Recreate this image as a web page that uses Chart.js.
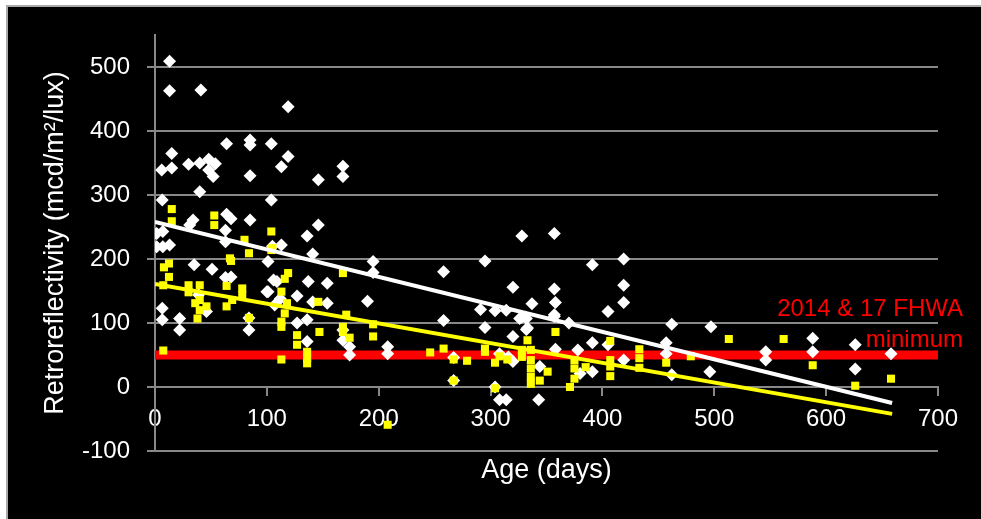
<!DOCTYPE html>
<html>
<head>
<meta charset="utf-8">
<script src="https://cdn.jsdelivr.net/npm/chart.js@4.4.0/dist/chart.umd.min.js"></script>
<style>
body { margin: 0; background: #fff; }
#frame { position: absolute; left: 6px; top: 5px; right: 0; bottom: 0; background: #000; border-top: 2px solid #a9a9a9; border-left: 2px solid #a9a9a9; }
#chart { position: absolute; left: 0; top: 0; }
</style>
</head>
<body>
<div id="frame"></div>
<canvas id="chart" width="981" height="519"></canvas>
<script>
// [age in days, retroreflectivity]
const whitePoints = [
    [1.5,240],[7,243],[1.5,219],[7,219],[13,222],[6.5,292],[6,339],[15,342],[15,365],[13,509],[13,463],[41,464],
    [30,348],[40,350],[48,356],[54,349],[48,339],[52,329],[40,305],[64,380],[85,386],[85,378],[104,380],[85,330],[104,292],
    [34,261],[31,253],[64,270],[68,263],[85,261],[63,245],[63,227],[35,191],[51,184],[63,171],[68,172],[101,196],[101,149],
    [6.5,123],[6.5,105],[22,107],[22,89],[84,89],[84,108],[39,144],[46,118],
    [119,438],[119,360],[113,344],[146,324],[146,253],[136,236],[141,208],[105,220],[113,222],
    [168,345],[168,329],[195,196],[195,179],[106,167],[109,165],[100,149],[112,138],[137,165],[154,162],[127,142],
    [141,133],[154,131],[190,134],[107,128],[127,100],[136,105],[168,89],[168,73],[174,63],[136,71],[174,50],[208,63],[208,52],
    [258,180],[295,197],[391,191],[419,200],[419,159],[419,132],[405,118],[357,153],[358,132],[320,156],[337,130],
    [291,121],[304,119],[314,120],[326,107],[332,107],[357,110],[370,100],[258,104],[295,93],[332,90],[320,79],
    [358,59],[378,58],[391,69],[405,66],[419,42],[267,46],[267,10],[308,52],[316,47],[320,40],[344,32],[380,21],
    [391,24],[304,0],[308,-20],[314,-20],[343,-20],[328,236],[357,240],[357,113],[328,109],[333,92],
    [462,98],[457,69],[457,52],[462,19],[497,94],[496,24],
    [546,55],[546,42],[588,76],[588,55],[626,66],[626,28],[658,52]
]

const yellowPoints = [
    [15,278],[15,259],[53,268],[53,253],[80,230],[104,243],[84,209],[104,214],[67,201],[105,217],
    [12.5,193],[8,187],[12.5,172],[7.4,159],[30,159],[30,148],[40,159],[40,136],[36,131],[40,120],[38,107],[46,126],
    [64,158],[64,126],[68,197],[78,154],[78,144],[69,136],[84,108],[7.4,57],
    [119,178],[116,169],[168,178],[113,149],[118,131],[116,115],[113,102],[113,94],[146,133],[171,113],[168,94],
    [168,86],[174,77],[195,98],[195,79],[147,86],[127,81],[127,66],[136,55],[136,45],[136,37],[113,43],[208,-59],
    [246,54],[258,60],[267,43],[279,41],[267,10],[295,60],[295,55],[304,38],[308,48],[304,-2],[315,43],[328,58],
    [328,47],[333,73],[336,58],[336,42],[336,29],[336,16],[336,5],[344,10],[351,24],[358,86],[371,0],[375,42],
    [375,29],[375,13],[385,31],[407,72],[407,42],[407,32],[407,17],[433,59],[433,45],[433,30],[457,38],[479,48],
    [513,75],[562,75],[588,34],[626,2],[658,13]
]

const whiteTrendAge = [0, 659]
const whiteTrendRetro = [258, -25]
const yellowTrendAge = [0, 659]
const yellowTrendRetro = [161, -42]
const minimumAge = [0, 700]
const minimumRetro = [50, 50]
const minimumText = ['2014 & 17 FHWA', 'minimum']

const ageTicks = [0, 100, 200, 300, 400, 500, 600, 700]
const retroTicks = [-100, 0, 100, 200, 300, 400, 500]

const font = { family: '"Liberation Sans", Arial, sans-serif', size: 24 }
const titleFont = { family: '"Liberation Sans", Arial, sans-serif', size: 27 }
const gridGray = '#888888'

function toXY(xs, ys){
    return xs.map((x, i) => ({ x: x, y: ys[i] }))
}

function pairs(points){
    return points.map(p => ({ x: p[0], y: p[1] }))
}

const minimumLabel = {
    id: 'minimumLabel',
    afterDatasetsDraw(chart){
        const ctx = chart.ctx
        const py = chart.scales.y.getPixelForValue(minimumRetro[0])
        const px = chart.chartArea.right + 25
        ctx.save()
        ctx.fillStyle = '#ff0000'
        ctx.font = '24px "Liberation Sans", Arial, sans-serif'
        ctx.textAlign = 'right'
        ctx.textBaseline = 'alphabetic'
        ctx.fillText(minimumText[0], px, py - 39)
        ctx.fillText(minimumText[1], px, py - 8)
        ctx.restore()
    }
}

new Chart(document.getElementById('chart').getContext('2d'), {
    type: 'scatter',
    data: {
        datasets: [
            {
                type: 'line',
                label: 'White trend',
                data: toXY(whiteTrendAge, whiteTrendRetro),
                xAxisID: 'x',
                borderColor: '#ffffff',
                borderWidth: 4,
                pointRadius: 0
            },
            {
                type: 'line',
                label: 'Yellow trend',
                data: toXY(yellowTrendAge, yellowTrendRetro),
                xAxisID: 'x',
                borderColor: '#ffff00',
                borderWidth: 4,
                pointRadius: 0
            },
            {
                label: 'Yellow',
                data: pairs(yellowPoints),
                xAxisID: 'x',
                pointStyle: 'rect',
                pointRadius: 5.7,
                pointBorderWidth: 0,
                backgroundColor: '#ffff00'
            },
            {
                label: 'White',
                data: pairs(whitePoints),
                xAxisID: 'x',
                pointStyle: 'rectRot',
                pointRadius: 6.5,
                pointBorderWidth: 0,
                backgroundColor: '#ffffff'
            },
            {
                type: 'line',
                label: 'FHWA minimum',
                data: toXY(minimumAge, minimumRetro),
                xAxisID: 'x',
                borderColor: '#ff0000',
                borderWidth: 9,
                pointRadius: 0
            }
        ]
    },
    options: {
        responsive: false,
        animation: false,
        events: [],
        layout: { padding: { top: 35, right: 43, left: 0, bottom: 0 } },
        plugins: {
            legend: { display: false },
            tooltip: { enabled: false }
        },
        scales: {
            x: {
                type: 'linear',
                position: 'bottom',
                min: 0,
                max: 700,
                ticks: { display: false },
                grid: { display: false },
                border: { display: false },
                title: { display: true, text: 'Age (days)', color: '#ffffff', font: titleFont, padding: { top: 0, bottom: 32 } },
                afterFit(scale){ scale.height = 68 }
            },
            x2: {
                type: 'linear',
                axis: 'x',
                position: { y: 0 },
                min: 0,
                max: 700,
                afterBuildTicks(scale){ scale.ticks = ageTicks.map(v => ({ value: v })) },
                ticks: { color: '#ffffff', font: font, padding: 10 },
                grid: { drawOnChartArea: false, color: gridGray, lineWidth: 2, tickLength: 8 },
                border: { color: gridGray, width: 2 }
            },
            y: {
                type: 'linear',
                position: 'left',
                min: -100,
                max: 550,
                afterBuildTicks(scale){ scale.ticks = retroTicks.map(v => ({ value: v })) },
                ticks: { color: '#ffffff', font: font, padding: 17 },
                grid: { color: gridGray, lineWidth: 2, tickLength: 8 },
                border: { color: gridGray, width: 2 },
                title: { display: true, text: 'Retroreflectivity (mcd/m²/lux)', color: '#ffffff', font: titleFont, padding: { top: 39, bottom: 0 } },
                afterFit(scale){ scale.width = 155 }
            }
        }
    },
    plugins: [minimumLabel]
});
</script>
</body>
</html>
